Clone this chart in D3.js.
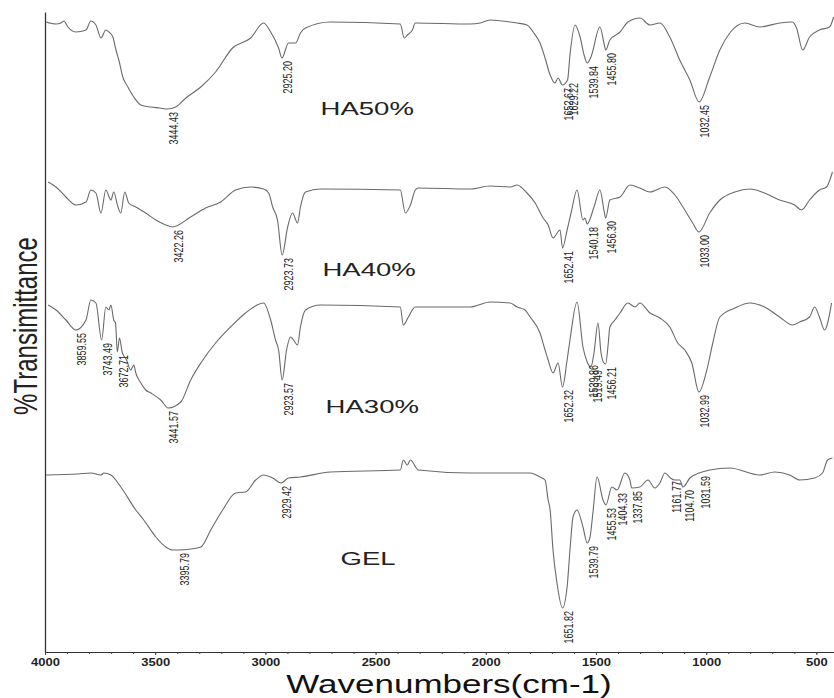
<!DOCTYPE html>
<html>
<head>
<meta charset="utf-8">
<script src="https://cdn.jsdelivr.net/npm/d3@7"></script>
<style>
  body { margin: 0; background: #fff; }
  text { font-family: "Liberation Sans", Arial, sans-serif; }
</style>
</head>
<body>
<div id="chart"></div>
<script>
// FTIR spectra, stacked: [wavenumber cm-1, transmittance (arbitrary, offset per trace)]
const ha50 = [[3995,630],[3950,628],[3928,629],[3914,631],[3896,625],[3860,620],[3814,622],[3792,631],[3769,627],[3746,614],[3724,622],[3710,620],[3692,615],[3678,602],[3665,592],[3647,575],[3624,565],[3597,555],[3565,547],[3520,545],[3480,544],[3444,543],[3407,545],[3361,554],[3293,565],[3226,580],[3149,604],[3067,614],[3008,629],[2976,620],[2940,604],[2925,594],[2895,609],[2863,609],[2841,619],[2818,624],[2705,630],[2388,628],[2370,614],[2356,617],[2333,622],[2320,629],[2071,628],[2025,629],[1980,632],[1889,630],[1858,629],[1813,627],[1785,620],[1754,609],[1731,594],[1708,577],[1686,569],[1672,574],[1652,567],[1629,572],[1618,597],[1595,627],[1572,615],[1554,597],[1540,589],[1523,595],[1482,625],[1463,608],[1456,602],[1437,612],[1391,620],[1355,630],[1301,634],[1255,627],[1210,629],[1165,615],[1120,592],[1074,572],[1032,550],[984,575],[938,602],[893,619],[825,629],[757,625],[667,629],[608,630],[590,624],[562,602],[531,615],[486,622],[440,625],[422,635]];

const ha40 = [[3986,470],[3950,465],[3905,455],[3860,447],[3814,450],[3792,462],[3769,459],[3746,439],[3724,462],[3701,452],[3688,460],[3669,445],[3656,439],[3638,460],[3620,449],[3588,445],[3543,439],[3497,432],[3452,427],[3422,425],[3339,435],[3271,444],[3203,450],[3135,462],[3067,465],[3008,463],[2985,459],[2967,445],[2945,432],[2924,397],[2899,425],[2877,439],[2854,429],[2841,445],[2818,460],[2750,463],[2388,462],[2365,439],[2342,447],[2320,462],[2306,464],[2071,463],[1980,466],[1889,465],[1858,467],[1813,459],[1776,449],[1740,434],[1717,427],[1695,414],[1663,422],[1652,404],[1631,422],[1613,439],[1586,462],[1559,432],[1550,434],[1540,428],[1509,445],[1482,462],[1464,442],[1456,434],[1437,452],[1391,455],[1346,467],[1301,464],[1255,460],[1187,465],[1142,457],[1097,442],[1061,429],[1033,420],[984,439],[938,452],[870,460],[802,463],[735,459],[667,452],[599,447],[567,442],[531,452],[486,462],[454,465],[427,480]];

const ha30 = [[3986,347],[3950,342],[3905,332],[3860,322],[3814,332],[3792,352],[3769,349],[3743,312],[3724,345],[3710,342],[3701,347],[3688,332],[3680,329],[3672,300],[3662,314],[3650,300],[3630,292],[3611,282],[3597,287],[3588,279],[3565,269],[3543,262],[3520,259],[3475,252],[3441,244],[3384,250],[3339,272],[3293,289],[3226,309],[3158,325],[3090,339],[3008,349],[2976,332],[2954,312],[2940,302],[2924,272],[2904,302],[2886,315],[2872,312],[2854,307],[2841,325],[2818,342],[2750,347],[2388,345],[2374,327],[2351,335],[2320,345],[2071,345],[1980,350],[1889,349],[1858,345],[1822,342],[1799,335],[1754,319],[1731,302],[1717,292],[1695,279],[1672,289],[1652,265],[1631,292],[1618,312],[1586,350],[1559,305],[1540,290],[1523,285],[1509,299],[1491,329],[1477,299],[1464,289],[1456,288],[1445,307],[1437,325],[1414,332],[1391,339],[1355,349],[1323,345],[1301,349],[1255,339],[1210,334],[1165,325],[1129,309],[1097,302],[1065,289],[1033,260],[997,282],[970,309],[938,335],[870,344],[802,349],[735,345],[667,335],[608,327],[576,330],[531,335],[508,345],[486,335],[463,322],[431,349]];

const gel = [[3995,177],[3850,178],[3792,179],[3746,177],[3733,179],[3701,177],[3656,165],[3588,142],[3552,132],[3497,115],[3452,105],[3420,102],[3396,102],[3339,103],[3293,105],[3248,122],[3194,142],[3135,159],[3090,160],[3044,172],[3008,177],[2967,174],[2929,169],[2895,174],[2841,175],[2705,180],[2388,182],[2374,192],[2356,187],[2342,192],[2306,182],[2071,179],[1799,179],[1754,175],[1731,172],[1717,152],[1708,142],[1695,102],[1677,69],[1652,44],[1631,65],[1618,102],[1604,135],[1586,142],[1559,125],[1540,109],[1527,115],[1514,139],[1495,175],[1468,152],[1455,147],[1428,165],[1404,162],[1369,179],[1346,172],[1338,164],[1301,165],[1264,172],[1233,164],[1210,169],[1187,179],[1162,174],[1142,172],[1120,172],[1105,165],[1074,174],[1032,179],[984,182],[893,184],[757,177],[689,180],[621,177],[576,172],[508,174],[472,179],[449,192],[427,194]];

// peak annotations per trace
const ha50Peaks = ["3444.43","2925.20","1652.67","1629.22","1539.84","1455.80","1032.45"];
const ha40Peaks = ["3422.26","2923.73","1652.41","1540.18","1456.30","1033.00"];
const ha30Peaks = ["3859.55","3743.49","3672.71","3441.57","2923.57","1652.32","1539.86","1519.49","1456.21","1032.99"];
const gelPeaks  = ["3395.79","2929.42","1651.82","1539.79","1455.53","1404.33","1337.85","1161.77","1104.70","1031.59"];

// trace names and where they sit
const names     = ["HA50%", "HA40%", "HA30%", "GEL"];
const nameWave  = [2750, 2741, 2727, 2659];
const nameT     = [537, 376, 239, 87];

const xTicks = [4000, 3500, 3000, 2500, 2000, 1500, 1000, 500];

const W = 834, H = 698;
const svg = d3.select("#chart").append("svg")
  .attr("width", W).attr("height", H);

const x = d3.scaleLinear().domain([4000, 420]).range([45, 834]);
const y = d3.scaleLinear().domain([0, 640]).range([652, 12]);

const traces = [
  { data: ha50, peaks: ha50Peaks },
  { data: ha40, peaks: ha40Peaks },
  { data: ha30, peaks: ha30Peaks },
  { data: gel,  peaks: gelPeaks }
];

// axes
svg.append("g")
  .attr("transform", `translate(0,${y(0)})`)
  .call(d3.axisBottom(x).tickValues(d3.range(4000, 420, -100)).tickSize(2).tickSizeOuter(0).tickFormat(""))
  .call(g => g.selectAll("line,path").attr("stroke", "#444"));

const xAxis = svg.append("g")
  .attr("transform", `translate(0,${y(0)})`)
  .call(d3.axisBottom(x).tickValues(xTicks).tickSize(3).tickPadding(4).tickSizeOuter(0).tickFormat(d3.format("d")));
xAxis.select(".domain").attr("stroke", "#333").attr("stroke-width", 1.2);
xAxis.selectAll("line").attr("stroke", "#444");
xAxis.selectAll("text")
  .attr("font-size", 10).attr("font-weight", "bold").attr("fill", "#222")
  .attr("transform", "scale(1.3,1)");

svg.append("g")
  .attr("transform", `translate(${x(4000)},0)`)
  .call(d3.axisLeft(y).tickValues([]).tickSizeOuter(0))
  .call(g => g.select(".domain").attr("stroke", "#333").attr("stroke-width", 1.3));

// spectra
const line = d3.line().x(d => x(d[0])).y(d => y(d[1])).curve(d3.curveMonotoneX);
svg.append("g").selectAll("path")
  .data(traces)
  .join("path")
    .attr("d", t => line(t.data))
    .attr("fill", "none")
    .attr("stroke", "#6a6a6a")
    .attr("stroke-width", 1.1)
    .attr("stroke-linejoin", "round");

// peak labels (vertical)
function nearest(data, w) {
  return data.reduce((a, b) => Math.abs(b[0] - w) < Math.abs(a[0] - w) ? b : a);
}
traces.forEach(t => {
  svg.append("g").selectAll("text")
    .data(t.peaks)
    .join("text")
      .attr("transform", p => {
        const pt = nearest(t.data, +p);
        return `translate(${x(+p) + 6},${y(pt[1]) + 3}) scale(1.4,1) rotate(-90)`;
      })
      .attr("text-anchor", "end")
      .attr("dy", "0.35em")
      .attr("font-size", 9)
      .attr("fill", "#222")
      .text(p => p);
});

// trace names
svg.append("g").selectAll("text")
  .data(names)
  .join("text")
    .attr("transform", (n, i) => `translate(${x(nameWave[i])},${y(nameT[i])}) scale(1.45,1)`)
    .attr("font-size", 19)
    .attr("fill", "#222")
    .text(n => n);

// axis titles
svg.append("text")
  .attr("transform", "translate(37,326) scale(1.4,1) rotate(-90)")
  .attr("text-anchor", "middle")
  .attr("font-size", 24)
  .attr("fill", "#222")
  .text("%Transimittance");

svg.append("text")
  .attr("transform", "translate(449,693) scale(1.4,1)")
  .attr("text-anchor", "middle")
  .attr("font-size", 25)
  .attr("fill", "#111")
  .text("Wavenumbers(cm-1)");
</script>
</body>
</html>
